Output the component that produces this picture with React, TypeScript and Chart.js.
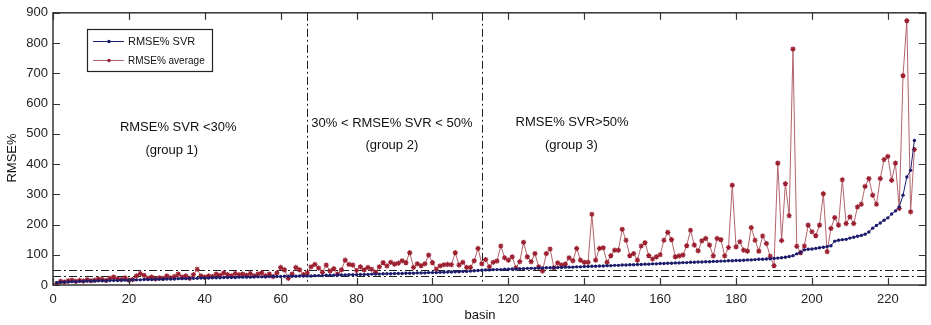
import React, { useEffect, useRef } from "react";
import { Chart, registerables } from "chart.js";

Chart.register(...registerables);

// RMSE% of SVR per basin (sorted), basins 1..227
const svrValues: number[] = [
  8, 9, 10, 10, 11, 11, 12, 12, 13, 13,
  13, 14, 14, 14, 15, 15, 15, 16, 16, 16,
  17, 17, 17, 18, 18, 18, 19, 19, 19, 20,
  20, 20, 21, 21, 21, 22, 22, 22, 23, 23,
  23, 24, 24, 24, 25, 25, 25, 25, 26, 26,
  26, 26, 27, 27, 27, 27, 28, 28, 28, 28,
  29, 29, 29, 29, 30, 30, 30, 30, 31, 31,
  31, 32, 32, 32, 33, 33, 33, 34, 34, 34,
  35, 35, 35, 36, 36, 36, 37, 37, 37, 38,
  38, 38, 39, 39, 39, 40, 40, 40, 41, 41,
  41, 42, 42, 43, 43, 44, 44, 45, 45, 46,
  47, 48, 49, 50, 50, 51, 51, 51, 52, 52,
  53, 53, 54, 54, 55, 55, 55, 56, 56, 57,
  57, 57, 58, 58, 59, 59, 59, 60, 60, 61,
  61, 62, 62, 63, 63, 64, 64, 65, 65, 66,
  66, 67, 67, 68, 68, 69, 69, 70, 70, 71,
  71, 72, 72, 73, 73, 74, 74, 75, 75, 76,
  76, 77, 77, 78, 78, 79, 79, 80, 80, 81,
  81, 82, 83, 83, 84, 85, 85, 86, 87, 88,
  89, 90, 92, 94, 97, 103, 108, 116, 118, 119,
  121, 123, 125, 127, 130, 145, 148, 150, 151, 155,
  158, 161, 164, 168, 175, 188, 197, 205, 214, 222,
  235, 245, 258, 297, 357, 379, 478,
];

// RMSE% of the average model per basin
const avgValues: number[] = [
  5, 12, 10, 14, 16, 12, 15, 13, 17, 14,
  16, 20, 18, 15, 22, 26, 20, 18, 24, 16,
  18, 30, 38, 32, 22, 26, 20, 24, 22, 30,
  24, 28, 36, 26, 30, 22, 34, 52, 30, 26,
  30, 28, 36, 32, 40, 34, 30, 38, 34, 36,
  32, 38, 30, 36, 40, 30, 36, 28, 40, 58,
  50, 22, 36, 58, 50, 34, 40, 60, 68, 56,
  42, 66, 46, 54, 36, 50, 82, 68, 66, 48,
  60, 50, 58, 52, 42, 60, 74, 63, 75, 69,
  72, 80, 74, 107, 58, 70, 64, 70, 99, 74,
  52, 63, 67, 68, 67, 107, 66, 75, 58, 58,
  80, 121, 70, 84, 60, 75, 79, 129, 90, 82,
  93, 57, 77, 141, 93, 77, 104, 60, 46, 104,
  119, 57, 73, 66, 69, 90, 80, 121, 82, 75,
  75, 234, 82, 121, 123, 75, 97, 115, 115, 184,
  148, 97, 104, 82, 129, 140, 97, 86, 93, 100,
  148, 174, 150, 93, 96, 99, 130, 181, 132, 113,
  146, 154, 132, 96, 154, 150, 96, 124, 330, 126,
  143, 115, 112, 190, 148, 112, 162, 137, 95, 64,
  403, 147, 335, 229, 780, 128, 107, 129, 198, 176,
  163, 198, 302, 110, 187, 223, 198, 348, 203, 225,
  203, 258, 267, 326, 352, 297, 267, 352, 415, 425,
  346, 403, 253, 692, 874, 242, 448,
];

const xTickValues: number[] = [0, 20, 40, 60, 80, 100, 120, 140, 160, 180, 200, 220];
const yTickValues: number[] = [0, 100, 200, 300, 400, 500, 600, 700, 800, 900];
const thresholdLines: number[] = [30, 50];
const groupBoundaries: number[] = [67, 113];
const seriesNames: string[] = ["RMSE% SVR", "RMSE% average"];
const groupTitles: string[] = ["RMSE% SVR <30%", "30% < RMSE% SVR < 50%", "RMSE% SVR>50%"];
const groupSubtitles: string[] = ["(group 1)", "(group 2)", "(group 3)"];
const xAxisTitle = "basin";
const yAxisTitle = "RMSE%";

const FONT = "'Liberation Sans', Arial, sans-serif";
const SVR_COLOR = "#1c1c6c";
const AVG_LINE = "#b2646c";
const AVG_MARK = "#9c1f30";
const AXIS = "#333333";

const overlayPlugin = {
  id: "overlay",
  beforeDatasetsDraw(chart: any) {
    const { ctx, chartArea: a, scales } = chart;
    const xs = scales.x;
    const ys = scales.y;
    ctx.save();
    ctx.strokeStyle = "#222";
    ctx.lineWidth = 1;
    ctx.setLineDash([8, 3, 2, 3]);
    for (const v of thresholdLines) {
      const y = Math.round(ys.getPixelForValue(v)) + 0.5;
      ctx.beginPath();
      ctx.moveTo(a.left, y);
      ctx.lineTo(a.right, y);
      ctx.stroke();
    }
    for (const v of groupBoundaries) {
      const x = Math.round(xs.getPixelForValue(v)) + 0.5;
      ctx.beginPath();
      ctx.moveTo(x, a.top);
      ctx.lineTo(x, a.bottom);
      ctx.stroke();
    }
    ctx.restore();
  },
  afterDraw(chart: any) {
    const { ctx, chartArea: a, scales } = chart;
    const xs = scales.x;
    const ys = scales.y;
    ctx.save();
    // box
    ctx.strokeStyle = AXIS;
    ctx.lineWidth = 1.5;
    ctx.setLineDash([]);
    ctx.strokeRect(a.left, a.top, a.right - a.left, a.bottom - a.top);
    // inward ticks
    ctx.lineWidth = 1.2;
    const tl = 7;
    ctx.beginPath();
    for (const v of xTickValues) {
      const x = Math.round(xs.getPixelForValue(v)) + 0.5;
      ctx.moveTo(x, a.bottom);
      ctx.lineTo(x, a.bottom - tl);
      ctx.moveTo(x, a.top);
      ctx.lineTo(x, a.top + tl);
    }
    for (const v of yTickValues) {
      const y = Math.round(ys.getPixelForValue(v)) + 0.5;
      ctx.moveTo(a.left, y);
      ctx.lineTo(a.left + tl, y);
      ctx.moveTo(a.right, y);
      ctx.lineTo(a.right - tl, y);
    }
    ctx.stroke();

    // group annotations
    ctx.fillStyle = "#111";
    ctx.textAlign = "center";
    ctx.textBaseline = "middle";
    ctx.font = `13px ${FONT}`;
    const titleX = [33, 89.3, 136.8];
    const subX = [31.3, 89.3, 136.6];
    const titleY = [521, 534, 536];
    const subY = [445, 462, 462];
    for (let i = 0; i < groupTitles.length; i++) {
      ctx.fillText(groupTitles[i], xs.getPixelForValue(titleX[i]), ys.getPixelForValue(titleY[i]));
      ctx.fillText(groupSubtitles[i], xs.getPixelForValue(subX[i]), ys.getPixelForValue(subY[i]));
    }

    // axis titles
    ctx.font = `13px ${FONT}`;
    ctx.fillText(xAxisTitle, 480, 315);
    ctx.save();
    ctx.translate(12, 158);
    ctx.rotate(-Math.PI / 2);
    ctx.fillText(yAxisTitle, 0, 0);
    ctx.restore();

    // legend
    const lx = 87, ly = 29, lw = 125, lh = 42;
    ctx.fillStyle = "#fff";
    ctx.fillRect(lx, ly, lw, lh);
    ctx.strokeStyle = "#222";
    ctx.lineWidth = 1.2;
    ctx.strokeRect(lx + 0.5, ly + 0.5, lw, lh);
    const rows = [ly + 12, ly + 31];
    const colorsL = [SVR_COLOR, AVG_LINE];
    for (let i = 0; i < 2; i++) {
      ctx.strokeStyle = colorsL[i];
      ctx.lineWidth = 1;
      ctx.beginPath();
      ctx.moveTo(lx + 6, rows[i] + 0.5);
      ctx.lineTo(lx + 37, rows[i] + 0.5);
      ctx.stroke();
      ctx.fillStyle = i === 0 ? SVR_COLOR : AVG_MARK;
      ctx.beginPath();
      ctx.arc(lx + 22, rows[i] + 0.5, 1.8, 0, Math.PI * 2);
      ctx.fill();
      ctx.fillStyle = "#111";
      ctx.textAlign = "left";
      ctx.font = i === 0 ? `11px ${FONT}` : `10px ${FONT}`;
      ctx.fillText(seriesNames[i], lx + 41, rows[i] + 1);
    }
    ctx.restore();
  },
};

export default function App() {
  const ref = useRef<HTMLCanvasElement>(null);
  useEffect(() => {
    document.body.style.margin = "0";
    if (!ref.current) return;
    const svrPts = svrValues.map((v, i) => ({ x: i + 1, y: v }));
    const avgPts = avgValues.map((v, i) => ({ x: i + 1, y: v }));
    const chart = new Chart(ref.current, {
      type: "line",
      data: {
        datasets: [
          {
            label: seriesNames[0],
            data: svrPts,
            borderColor: SVR_COLOR,
            backgroundColor: SVR_COLOR,
            borderWidth: 1,
            pointStyle: "circle",
            pointRadius: 1.7,
            pointBorderWidth: 0,
            pointBackgroundColor: SVR_COLOR,
            order: 0,
          },
          {
            label: seriesNames[1],
            data: avgPts,
            borderColor: AVG_LINE,
            backgroundColor: AVG_MARK,
            borderWidth: 1,
            pointStyle: "star",
            pointRadius: 2.6,
            pointBorderWidth: 1.2,
            pointBorderColor: AVG_MARK,
            order: 1,
          },
        ],
      },
      options: {
        animation: false,
        responsive: false,
        maintainAspectRatio: false,
        layout: { padding: { left: 0, right: 1, top: 12, bottom: 0 } },
        plugins: { legend: { display: false }, tooltip: { enabled: false } },
        scales: {
          x: {
            type: "linear",
            min: 0,
            max: 230,
            grid: { display: false, drawTicks: false },
            border: { display: false },
            afterBuildTicks: (s: any) => {
              s.ticks = xTickValues.map((v) => ({ value: v }));
            },
            afterFit: (s: any) => {
              s.height = 40;
            },
            ticks: { color: "#222", font: { family: FONT, size: 13 }, padding: 7, maxRotation: 0 },
          },
          y: {
            type: "linear",
            min: 0,
            max: 900,
            grid: { display: false, drawTicks: false },
            border: { display: false },
            afterBuildTicks: (s: any) => {
              s.ticks = yTickValues.map((v) => ({ value: v }));
            },
            afterFit: (s: any) => {
              s.width = 53;
            },
            ticks: { color: "#222", font: { family: FONT, size: 13 }, padding: 5 },
          },
        },
      },
      plugins: [overlayPlugin],
    });
    return () => chart.destroy();
  }, []);
  return (
    <div style={{ position: "absolute", left: 0, top: 0, width: 931, height: 325, background: "#fff" }}>
      <canvas ref={ref} width={931} height={325} style={{ display: "block" }} />
    </div>
  );
}
